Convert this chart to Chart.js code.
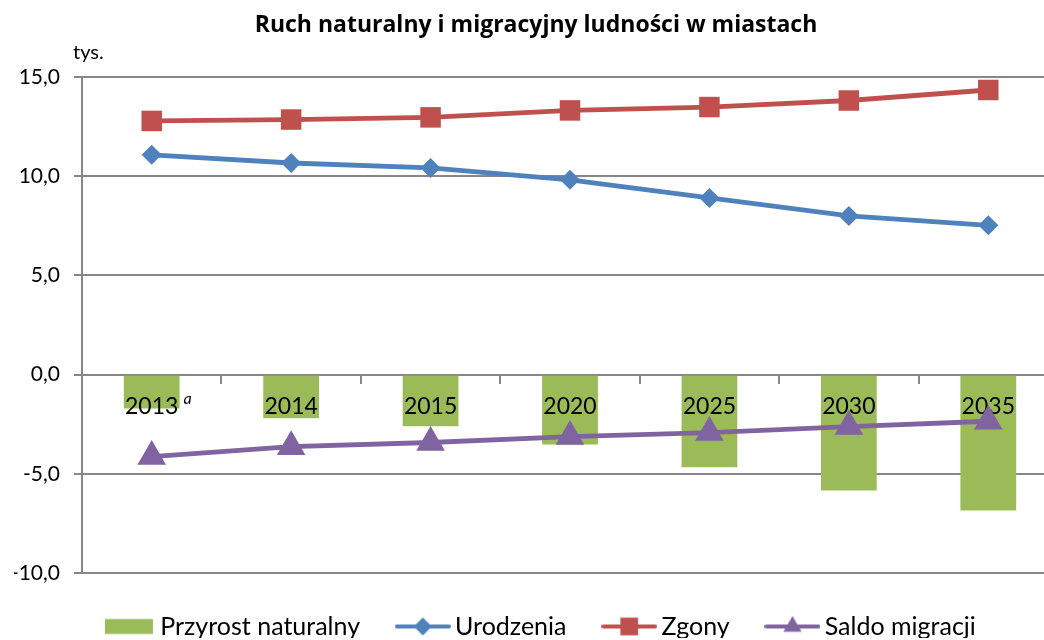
<!DOCTYPE html>
<html><head><meta charset="utf-8">
<script src="https://cdn.jsdelivr.net/npm/chart.js@4/dist/chart.umd.min.js"></script>
<style>html,body{margin:0;padding:0;overflow:hidden;background:#fff}
canvas{display:block}</style>
</head><body><canvas id="c" width="1044" height="640"></canvas>
<script>
const categories = ['2013','2014','2015','2020','2025','2030','2035'];
const przyrostNaturalny = [-1.71,-2.2,-2.6,-3.52,-4.67,-5.84,-6.85];
const urodzenia = [11.08,10.67,10.42,9.82,8.91,8.0,7.53];
const zgony = [12.79,12.86,12.97,13.32,13.49,13.82,14.35];
const saldoMigracji = [-4.13,-3.63,-3.42,-3.12,-2.92,-2.62,-2.35];
const seriesNames = ['Przyrost naturalny','Urodzenia','Zgony','Saldo migracji'];
const yMin = -10, yMax = 15, yStep = 5;
const unitLabel = 'tys.';
const titleText = 'Ruch naturalny i migracyjny ludności w miastach';

const GREEN='#9BBB59', BLUE='#4F81BD', RED='#C0504D', PURPLE='#8064A2', GRID='#878787';
const FONT='Lato';
const PLOT_RIGHT=1058; // plot area continues past the right edge of the picture

function makeIcon(kind, color, style, r){
  const c=document.createElement('canvas');
  if(kind==='bar'){ c.width=52; c.height=22; const g=c.getContext('2d'); g.fillStyle=color; g.fillRect(3,3.5,48,15); return c; }
  c.width=56; c.height=22;
  const g=c.getContext('2d');
  g.strokeStyle=color; g.lineWidth=4; g.lineCap='round';
  g.beginPath(); g.moveTo(2,11); g.lineTo(54,11); g.stroke();
  g.fillStyle=color;
  Chart.helpers.drawPoint(g,{pointStyle:style,radius:r,borderWidth:0,rotation:0},28,11);
  return c;
}
const icons=[makeIcon('bar',GREEN),makeIcon('line',BLUE,'rectRot',9),makeIcon('line',RED,'rect',12.5),makeIcon('line',PURPLE,'triangle',10.5)];

const extras={
  id:'extras',
  afterInit(chart){
    const lg=chart.legend;
    if(lg){ const of=lg.fit.bind(lg); lg.fit=function(){ of(); this.height=67; }; }
  },
  afterLayout(chart){
    const ca=chart.chartArea;
    ca.right=PLOT_RIGHT; ca.width=ca.right-ca.left;
    const xs=chart.scales.x;
    xs.right=PLOT_RIGHT; xs.width=xs.right-xs.left; xs.configure();
    const lg=chart.legend;
    if(lg){ lg.left+=13; lg.right+=13; lg.top-=2; lg.bottom-=2; }
    const tb=chart.titleBlock;
    if(tb){ tb.left+=7; tb.right+=7; }
  },
  beforeDatasetDraw(chart,args){ if(chart.data.datasets[args.index].type==='line') return false; },
  afterDraw(chart){
    const ctx=chart.ctx;
    for(let i=chart.data.datasets.length-1;i>=0;i--){
      if(chart.data.datasets[i].type==='line'){ chart.getDatasetMeta(i).controller.draw(); }
    }
    const xs=chart.scales.x, ys=chart.scales.y;
    ctx.save();
    ctx.font='23px '+FONT;
    const w=ctx.measureText(categories[0]).width;
    const x0=xs.getPixelForTick(0)+w/2+5;
    const y0=ys.getPixelForValue(0)+8+10;
    ctx.font='italic 16px '+FONT; ctx.fillStyle='#000'; ctx.textBaseline='top'; ctx.textAlign='left';
    ctx.fillText('a',x0,y0-2);
    ctx.font='20px '+FONT; ctx.textBaseline='middle';
    ctx.fillText(unitLabel,73,chart.chartArea.top-25);
    ctx.restore();
  }
};

new Chart(document.getElementById('c'),{
  type:'bar',
  data:{labels:categories,datasets:[
    {type:'bar',label:seriesNames[0],data:przyrostNaturalny,backgroundColor:GREEN,barPercentage:0.4,categoryPercentage:1},
    {type:'line',label:seriesNames[1],data:urodzenia,borderColor:BLUE,backgroundColor:BLUE,borderWidth:4.8,pointStyle:'rectRot',pointRadius:10,pointBackgroundColor:BLUE,pointBorderWidth:0,tension:0},
    {type:'line',label:seriesNames[2],data:zgony,borderColor:RED,backgroundColor:RED,borderWidth:4.8,pointStyle:'rect',pointRadius:14.5,pointBackgroundColor:RED,pointBorderWidth:0,tension:0},
    {type:'line',label:seriesNames[3],data:saldoMigracji,borderColor:PURPLE,backgroundColor:PURPLE,borderWidth:4.8,pointStyle:'triangle',pointRadius:16.5,pointBackgroundColor:PURPLE,pointBorderWidth:0,tension:0}
  ]},
  options:{
    responsive:false,animation:false,
    layout:{padding:{left:14,right:0,top:0,bottom:0}},
    events:[],
    plugins:{
      title:{display:true,text:titleText,color:'#000',font:{family:'Open Sans',size:23,weight:'bold'},padding:{top:11.5,bottom:38}},
      legend:{position:'bottom',labels:{usePointStyle:true,pointStyleWidth:39.5,color:'#000',font:{family:FONT,size:25},padding:43,
        generateLabels:(chart)=>chart.data.datasets.map((ds,i)=>({text:ds.label,pointStyle:icons[i],fillStyle:ds.backgroundColor,strokeStyle:'transparent',lineWidth:0,hidden:false,datasetIndex:i,fontColor:'#000'}))}},
      tooltip:{enabled:false}
    },
    scales:{
      x:{type:'category',position:{y:0},offset:true,
        grid:{drawOnChartArea:false,offset:true,tickLength:8,color:GRID,lineWidth:2},
        border:{color:GRID,width:2},
        ticks:{font:{family:FONT,size:23},color:'#000',padding:10,z:1,maxRotation:0,autoSkip:false}},
      y:{min:yMin,max:yMax,
        ticks:{stepSize:yStep,color:'#000',font:{family:FONT,size:21},padding:14,callback:(v)=>v.toFixed(1).replace('.',',')},
        grid:{color:GRID,lineWidth:2,tickLength:8},
        border:{color:GRID,width:2},
        afterFit(s){s.width=68;}}
    }
  },
  plugins:[extras]
});
</script></body></html>
